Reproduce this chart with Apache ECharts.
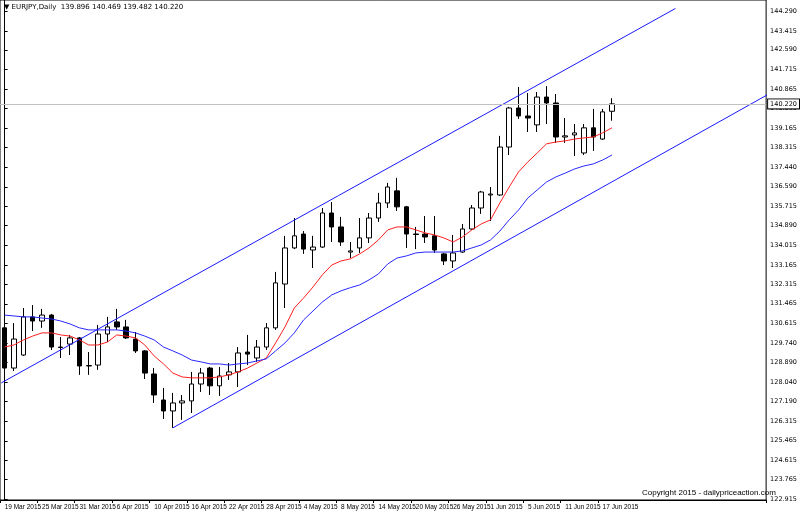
<!DOCTYPE html>
<html>
<head>
<meta charset="utf-8">
<script src="https://cdn.jsdelivr.net/npm/echarts@6/dist/echarts.min.js"></script>
<style>
  html, body { margin: 0; padding: 0; background: #fff; }
  #chart { width: 800px; height: 514px; }
</style>
</head>
<body>
<div id="chart"></div>
<script>
// trading days shown on the chart
var dates = [
  '19 Mar 2015','20 Mar 2015','23 Mar 2015','24 Mar 2015','25 Mar 2015','26 Mar 2015','27 Mar 2015','30 Mar 2015',
  '31 Mar 2015','1 Apr 2015','2 Apr 2015','3 Apr 2015','6 Apr 2015','7 Apr 2015','8 Apr 2015','9 Apr 2015',
  '10 Apr 2015','13 Apr 2015','14 Apr 2015','15 Apr 2015','16 Apr 2015','17 Apr 2015','20 Apr 2015','21 Apr 2015',
  '22 Apr 2015','23 Apr 2015','24 Apr 2015','27 Apr 2015','28 Apr 2015','29 Apr 2015','30 Apr 2015','1 May 2015',
  '4 May 2015','5 May 2015','6 May 2015','7 May 2015','8 May 2015','11 May 2015','12 May 2015','13 May 2015',
  '14 May 2015','15 May 2015','18 May 2015','19 May 2015','20 May 2015','21 May 2015','22 May 2015','25 May 2015',
  '26 May 2015','27 May 2015','28 May 2015','29 May 2015','1 Jun 2015','2 Jun 2015','3 Jun 2015','4 Jun 2015',
  '5 Jun 2015','8 Jun 2015','9 Jun 2015','10 Jun 2015','11 Jun 2015','12 Jun 2015','15 Jun 2015','16 Jun 2015',
  '17 Jun 2015','18 Jun 2015'
];
var emptySlots = 16; // right shift of the chart

// open, close, low, high
var ohlc = [
  [130.41,128.65,128.26,130.45],[128.65,129.92,128.52,130.62],[129.22,130.89,129.18,131.28],[130.89,130.71,130.27,131.41],
  [130.71,130.97,130.41,131.24],[130.97,129.57,129.44,131.02],[129.57,129.55,129.09,130.01],[129.70,129.97,129.22,130.10],
  [129.97,128.74,128.35,130.01],[128.74,128.76,128.35,129.35],[128.78,130.14,128.57,130.54],[130.14,130.45,129.79,130.89],
  [130.67,130.45,130.32,131.24],[130.45,129.97,129.92,130.76],[129.92,129.40,129.31,130.23],[129.40,128.43,128.17,129.44],
  [128.39,127.47,127.12,128.65],[127.25,126.77,126.42,127.78],[126.77,127.12,126.03,127.56],[127.12,127.21,126.38,127.47],
  [127.21,127.95,126.68,128.48],[127.95,128.43,127.60,128.65],[128.65,127.87,127.47,128.70],[127.87,128.30,127.43,128.70],
  [128.35,128.48,128.13,128.87],[128.48,129.31,127.82,129.57],[129.35,129.26,128.78,130.10],[129.09,129.57,128.92,129.88],
  [129.57,130.41,129.44,130.62],[130.41,132.38,130.32,132.86],[132.33,133.91,131.28,134.44],[133.91,134.44,133.86,135.22],
  [134.52,133.86,133.65,134.65],[133.82,133.95,133.03,134.44],[133.95,135.44,133.91,135.66],[135.44,134.83,134.17,135.92],
  [134.83,134.17,134.00,135.27],[133.73,133.78,133.47,134.17],[133.91,134.35,133.69,135.22],[134.35,135.22,134.13,135.44],
  [135.22,135.88,135.05,136.32],[135.88,136.58,135.66,136.76],[136.41,135.71,135.53,136.98],[135.71,134.52,133.91,135.75],
  [134.52,134.50,133.86,134.83],[134.52,134.39,134.13,135.31],[134.44,133.82,133.69,135.31],[133.65,133.34,133.16,133.69],
  [133.34,133.69,133.03,134.48],[133.73,134.74,133.69,134.96],[134.74,135.66,134.70,135.79],[135.66,136.36,135.40,136.41],
  [136.23,136.27,135.09,136.58],[136.23,138.33,136.19,138.82],[138.33,140.04,137.98,140.09],[140.04,139.69,139.56,140.96],
  [139.69,139.60,138.99,140.70],[139.30,140.52,138.99,140.74],[140.52,140.26,139.34,141.00],[140.26,138.77,138.51,140.65],
  [138.77,138.82,138.51,139.60],[138.86,138.95,137.94,139.34],[138.07,139.17,137.98,139.34],[139.17,138.77,138.16,140.00],
  [138.68,139.87,138.64,140.00],[139.896,140.220,139.482,140.469]
];

var maFast = [
  129.57,129.66,129.88,130.05,130.19,130.19,130.10,130.05,129.88,129.66,129.66,129.79,130.10,130.05,129.97,129.66,
  129.18,128.83,128.43,128.26,128.22,128.22,128.22,128.26,128.35,128.48,128.65,128.87,129.09,129.75,130.45,131.28,
  131.72,132.20,132.73,133.16,133.34,133.43,133.65,133.91,134.26,134.70,134.83,134.83,134.70,134.57,134.48,134.35,
  134.17,134.39,134.70,134.96,135.14,135.88,136.58,137.24,137.68,138.07,138.47,138.55,138.60,138.68,138.73,138.77,
  138.95,139.17
];
var maSlow = [
  130.97,130.93,130.89,130.89,130.84,130.80,130.71,130.58,130.41,130.32,130.32,130.32,130.32,130.27,130.19,130.05,
  129.88,129.57,129.40,129.22,129.00,128.92,128.83,128.83,128.78,128.83,128.87,128.96,129.05,129.40,129.75,130.19,
  130.76,131.15,131.54,131.85,132.03,132.17,132.29,132.51,132.77,133.21,133.47,133.56,133.69,133.73,133.73,133.73,
  133.73,133.78,133.91,134.04,134.26,134.65,135.14,135.57,136.10,136.45,136.80,137.02,137.19,137.37,137.50,137.59,
  137.76,137.98
];

// channel lines: [bar index, price]
var channelTop = [[-0.36, 128.00], [71.8, 144.40]];
var channelBottom = [[18.0, 126.03], [81.6, 140.61]];

var priceTicks = [122.915,123.765,124.615,125.465,126.315,127.190,128.040,128.890,129.740,130.615,131.465,132.315,
  133.165,134.015,134.890,135.715,136.590,137.440,138.315,139.165,140.015,140.865,141.715,142.590,143.415,144.290];
var lastPrice = 140.220;

var categories = dates.slice();
for (var i = 0; i < emptySlots; i++) categories.push('');
var N = categories.length;

function dateTick(idx) { return idx % 4 === 0 && idx <= 64; }

var chart = echarts.init(document.getElementById('chart'));

var option = {
  animation: false,
  backgroundColor: '#fff',
  textStyle: { fontFamily: 'DejaVu Sans' },
  grid: { left: -1.3, right: 29, top: 0, bottom: 14, show: true, borderColor: '#000', borderWidth: 1 },
  xAxis: [
    {
      type: 'category',
      data: categories,
      boundaryGap: true,
      axisLine: { lineStyle: { color: '#000' } },
      axisTick: { show: true, length: 3, lineStyle: { color: '#000' }, interval: dateTick },
      axisLabel: {
        fontSize: 6.5, color: '#000', margin: 4, align: 'left',
        fontFamily: 'Liberation Sans Narrow, Liberation Sans',
        interval: dateTick, showMinLabel: true, hideOverlap: false
      },
      splitLine: { show: false }
    },
    { type: 'value', min: -0.5, max: N - 0.5, show: false }
  ],
  yAxis: {
    type: 'value',
    position: 'right',
    min: 122.87,
    max: 144.77,
    axisLine: { show: true, lineStyle: { color: '#000' } },
    axisTick: { show: true, length: 3, customValues: priceTicks, lineStyle: { color: '#000' } },
    axisLabel: {
      fontSize: 6.5, color: '#000', margin: 4, customValues: priceTicks,
      formatter: function (v) { return v.toFixed(3); }
    },
    splitLine: { show: false }
  },
  series: [
    {
      type: 'candlestick',
      data: ohlc,
      barWidth: 5,
      itemStyle: { color: '#fff', color0: '#000', borderColor: '#000', borderColor0: '#000', borderWidth: 1 },
      markLine: {
        symbol: 'none',
        silent: true,
        lineStyle: { color: '#c0c0c0', type: 'solid', width: 1 },
        label: {
          position: 'end', formatter: lastPrice.toFixed(3), fontSize: 6.5, color: '#000',
          backgroundColor: '#fff', borderColor: '#000', borderWidth: 1, padding: [1, 2], distance: 2
        },
        data: [{ yAxis: lastPrice }]
      }
    },
    {
      type: 'line', data: maFast, symbol: 'none', smooth: false,
      lineStyle: { color: '#ff2020', width: 1 }
    },
    {
      type: 'line', data: maSlow, symbol: 'none', smooth: false,
      lineStyle: { color: '#2828ff', width: 1 }
    },
    {
      type: 'line', xAxisIndex: 1, data: channelTop, symbol: 'none',
      lineStyle: { color: '#1a1aff', width: 1 }
    },
    {
      type: 'line', xAxisIndex: 1, data: channelBottom, symbol: 'none',
      lineStyle: { color: '#1a1aff', width: 1 }
    }
  ],
  graphic: [
    {
      type: 'text', left: 4, top: 4,
      style: { text: '\u25BC EURJPY,Daily  139.896 140.469 139.482 140.220', fontSize: 7, fill: '#000', fontFamily: 'DejaVu Sans' }
    },
    {
      type: 'text', left: 642, top: 489,
      style: { text: 'Copyright 2015 - dailypriceaction.com', fontSize: 8, fill: '#000', fontFamily: 'Liberation Sans' }
    }
  ]
};

chart.setOption(option);
</script>
</body>
</html>
